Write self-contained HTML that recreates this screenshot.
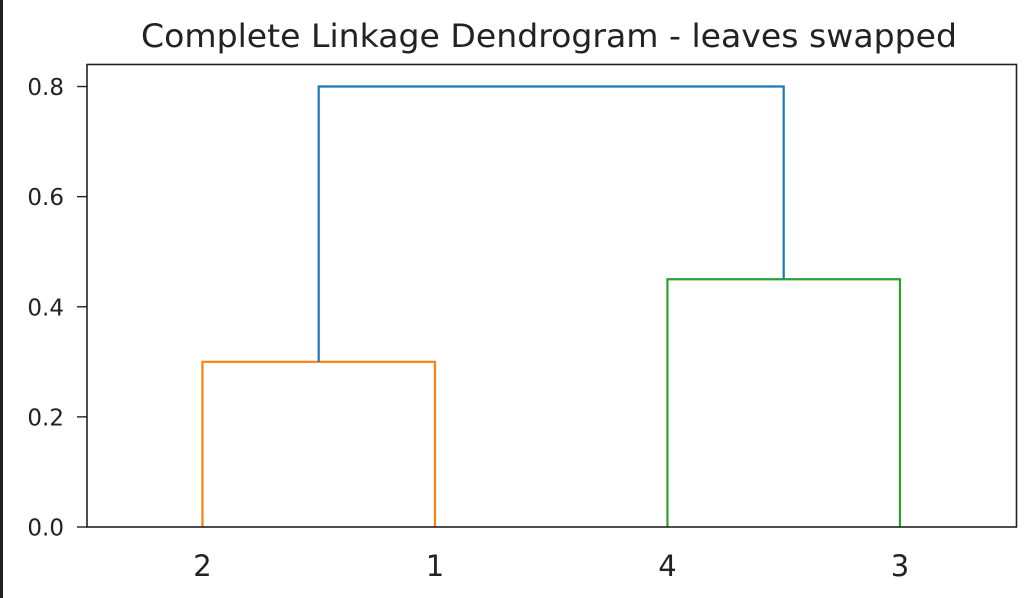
<!DOCTYPE html>
<html><head><meta charset="utf-8"><style>
html,body{margin:0;padding:0;background:#fff;width:1032px;height:598px;overflow:hidden}
svg{display:block;font-family:"DejaVu Sans","Liberation Sans",sans-serif}
</style></head><body>
<svg id="chart" width="1032" height="598">
<rect x="0" y="0" width="3" height="598" fill="#222"/>
<text x="549" y="47" font-size="32" text-anchor="middle" fill="#222" textLength="816" lengthAdjust="spacingAndGlyphs">Complete Linkage Dendrogram - leaves swapped</text>
<g id="links"></g>
<g id="yaxis"></g>
<g id="xaxis"></g>
<rect x="87" y="64.5" width="929.5" height="462.5" fill="none" stroke="#222" stroke-width="1.6"/>
</svg>
<script>
const leafLabels = ['2','1','4','3'];
const mergeHeights = [0.3, 0.45, 0.8];
const mergeLeft = [0, 2, 0.5];   // positions in leaf index units
const mergeRight = [1, 3, 2.5];
const leftBase = [0, 0, 0.3];
const rightBase = [0, 0, 0.45];
const linkColors = ['#ff7f0e', '#2ca02c', '#1f77b4'];
const yTicks = [0, 0.2, 0.4, 0.6, 0.8];
const yTickLabels = ['0.0', '0.2', '0.4', '0.6', '0.8'];

const X0 = 87, X1 = 1017, Y0 = 527, YMAX = 0.84, Ytop = 64.5;
const xs = i => X0 + (5 + 10 * i) / 40 * (X1 - X0) - 0.8;
const ys = v => Y0 - v / YMAX * (Y0 - Ytop);
const NS = 'http://www.w3.org/2000/svg';
function mk(tag, attrs, parent) {
  const e = document.createElementNS(NS, tag);
  for (const k in attrs) e.setAttribute(k, attrs[k]);
  parent.appendChild(e);
  return e;
}
const links = document.getElementById('links');
mergeHeights.forEach((h, i) => {
  const xl = xs(mergeLeft[i]), xr = xs(mergeRight[i]);
  const p = mk('polyline', {
    points: `${xl},${ys(leftBase[i])} ${xl},${ys(h)} ${xr},${ys(h)} ${xr},${ys(rightBase[i])}`,
    fill: 'none', stroke: linkColors[i], 'stroke-width': 2.2
  }, links);
  
  
});
const ya = document.getElementById('yaxis');
yTicks.forEach((v, i) => {
  const y = ys(v);
  const t = mk('line', {x1: 77, x2: 87, y1: y, y2: y, stroke: '#222', 'stroke-width': 1.4}, ya);
  
  
  const l = mk('text', {x: 64, y: y + 8.5, 'font-size': 23, 'text-anchor': 'end', fill: '#222'}, ya);
  l.textContent = yTickLabels[i];
  
  
});
const xa = document.getElementById('xaxis');
leafLabels.forEach((s, i) => {
  const l = mk('text', {x: xs(i), y: 576, 'font-size': 29, 'text-anchor': 'middle', fill: '#222'}, xa);
  l.textContent = s;
  
  
});
</script>
</body></html>
